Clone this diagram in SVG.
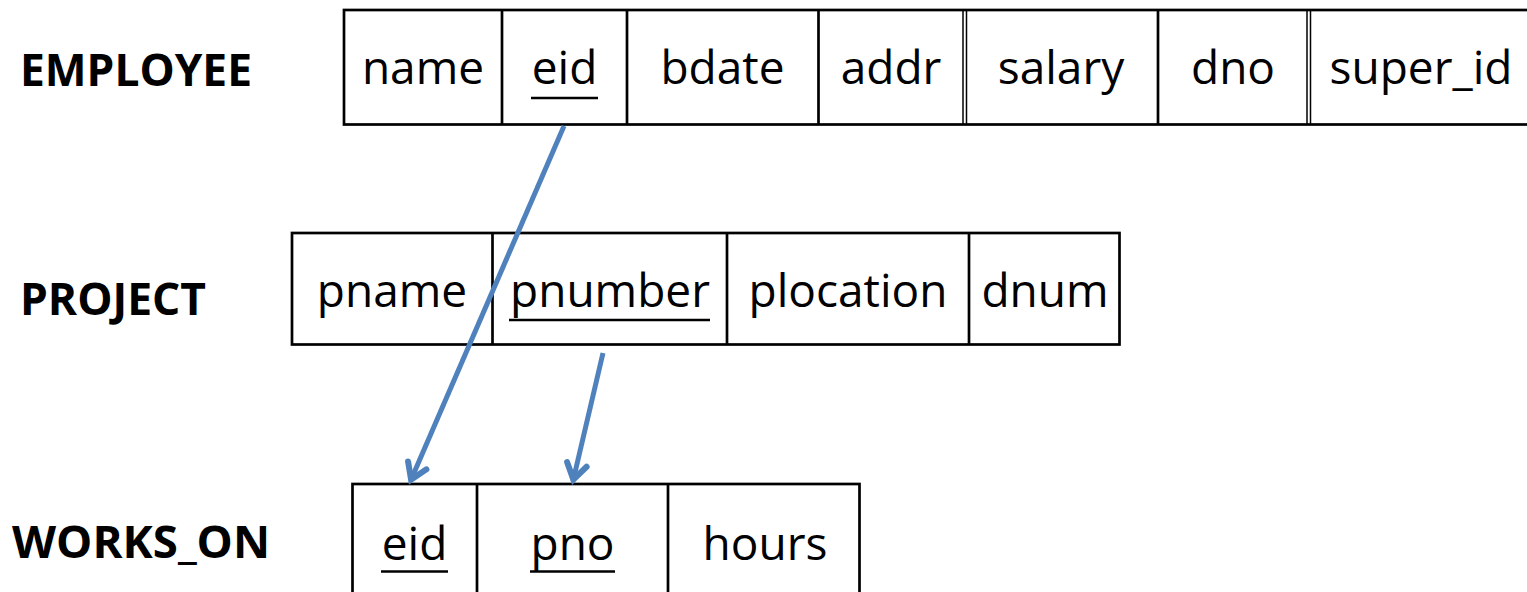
<svg xmlns="http://www.w3.org/2000/svg" width="1527" height="592" viewBox="0 0 1527 592">
  <style>
    .cell { fill: #ffffff; stroke: #000000; stroke-width: 2.7; }
    .div { stroke: #000000; stroke-width: 2.7; fill: none; }
    .dbl { stroke: #000000; stroke-width: 1.5; fill: none; }
    .attr { font-family: "Open Sans", "Liberation Sans", sans-serif; font-size: 46px; fill: #000000; text-anchor: middle; }
    .title { font-family: "Open Sans", "Liberation Sans", sans-serif; font-size: 45px; font-weight: bold; fill: #000000; }
    .ul { stroke: #000000; stroke-width: 2.7; }
    .fk { stroke: #4F81BD; stroke-width: 5; fill: none; marker-end: url(#head); }
  </style>
  <defs>
    <marker id="head" markerUnits="userSpaceOnUse" viewBox="-30 -16 34 32" markerWidth="34" markerHeight="32" refX="0" refY="0" orient="auto">
      <path d="M-17,-10 L-1.5,0 L-17,10" fill="none" stroke="#4F81BD" stroke-width="6" stroke-linejoin="miter" stroke-linecap="round"/>
    </marker>
  </defs>
  <rect width="1527" height="592" fill="#ffffff"/>

  <!-- EMPLOYEE relation -->
  <g id="employee">
    <text class="title" x="20" y="86" textLength="232" lengthAdjust="spacingAndGlyphs">EMPLOYEE</text>
    <rect class="cell" x="344" y="10" width="1200" height="114.5"/>
    <line class="div" x1="502" y1="10" x2="502" y2="124.5"/>
    <line class="div" x1="627" y1="10" x2="627" y2="124.5"/>
    <line class="div" x1="818.5" y1="10" x2="818.5" y2="124.5"/>
    <line class="dbl" x1="963" y1="10" x2="963" y2="124.5"/>
    <line class="dbl" x1="966.5" y1="10" x2="966.5" y2="124.5"/>
    <line class="div" x1="1158" y1="10" x2="1158" y2="124.5"/>
    <line class="dbl" x1="1307" y1="10" x2="1307" y2="124.5"/>
    <line class="dbl" x1="1310.5" y1="10" x2="1310.5" y2="124.5"/>
    <text class="attr" x="423" y="84">name</text>
    <text class="attr" x="564.5" y="84">eid</text>
    <line class="ul" x1="531" y1="98" x2="598" y2="98"/>
    <text class="attr" x="722.5" y="84">bdate</text>
    <text class="attr" x="891" y="84">addr</text>
    <text class="attr" x="1061" y="84">salary</text>
    <text class="attr" x="1233" y="84">dno</text>
    <text class="attr" x="1421" y="84">super_id</text>
  </g>

  <!-- PROJECT relation -->
  <g id="project">
    <text class="title" x="20" y="315" textLength="186" lengthAdjust="spacingAndGlyphs">PROJECT</text>
    <rect class="cell" x="292" y="233" width="827.5" height="111.5"/>
    <line class="div" x1="492.5" y1="233" x2="492.5" y2="344.5"/>
    <line class="div" x1="727" y1="233" x2="727" y2="344.5"/>
    <line class="div" x1="969" y1="233" x2="969" y2="344.5"/>
    <text class="attr" x="392" y="307">pname</text>
    <text class="attr" x="610" y="307">pnumber</text>
    <line class="ul" x1="509" y1="320" x2="710" y2="320"/>
    <text class="attr" x="848" y="307">plocation</text>
    <text class="attr" x="1045" y="307">dnum</text>
  </g>

  <!-- WORKS_ON relation -->
  <g id="works_on">
    <text class="title" x="12" y="558" textLength="258" lengthAdjust="spacingAndGlyphs">WORKS_ON</text>
    <rect class="cell" x="352.5" y="484" width="507" height="130"/>
    <line class="div" x1="477" y1="484" x2="477" y2="614"/>
    <line class="div" x1="668" y1="484" x2="668" y2="614"/>
    <text class="attr" x="414.5" y="560">eid</text>
    <line class="ul" x1="381" y1="571.5" x2="448" y2="571.5"/>
    <text class="attr" x="572.5" y="560">pno</text>
    <line class="ul" x1="530" y1="571.5" x2="615" y2="571.5"/>
    <text class="attr" x="765" y="560">hours</text>
  </g>

  <!-- foreign key references -->
  <g id="connectors">
    <line class="fk" x1="564" y1="126" x2="410.5" y2="481"/>
    <line class="fk" x1="603" y1="353" x2="573" y2="481"/>
  </g>
</svg>
